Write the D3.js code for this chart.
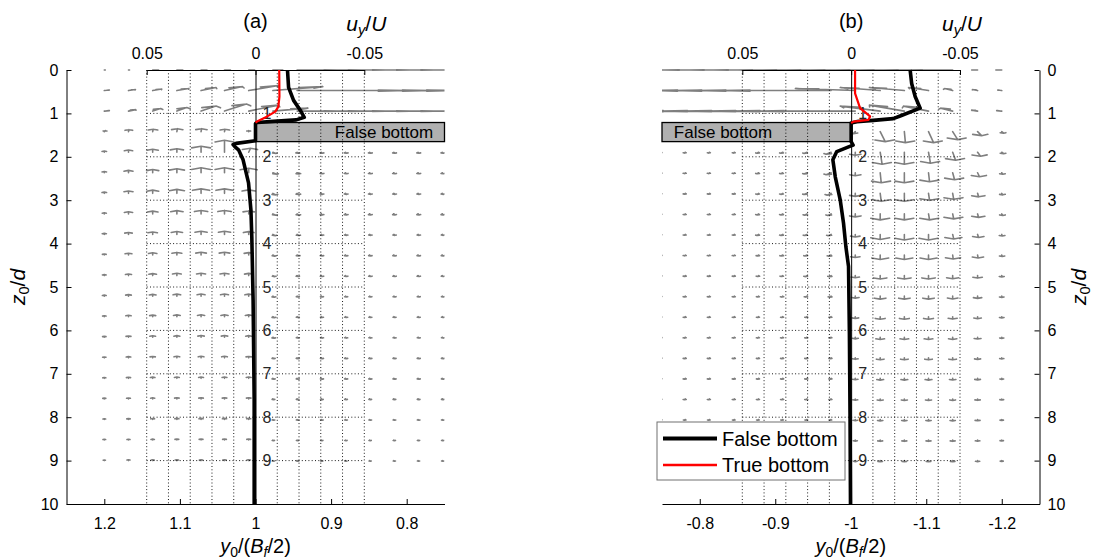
<!DOCTYPE html>
<html>
<head>
<meta charset="utf-8">
<script src="https://cdn.jsdelivr.net/npm/d3@7"></script>
<style>
  body { margin: 0; background: #fff; }
</style>
</head>
<body>
<svg id="fig" width="1093" height="559"></svg>
<script>
// ---------- axis ticks ----------
const zTicks = [0, 1, 2, 3, 4, 5, 6, 7, 8, 9, 10];
const zInnerTicks = [1, 2, 3, 4, 5, 6, 7, 8, 9];
const yTicksA = [1.2, 1.1, 1, 0.9, 0.8];
const yTicksB = [-0.8, -0.9, -1, -1.1, -1.2];
const uTicks = [0.05, 0, -0.05];
const uTickLabels = ["0.05", "0", "-0.05"];
const uGrid = [0.05, 0.04, 0.03, 0.02, 0.01, -0.01, -0.02, -0.03, -0.04, -0.05];

// ---------- quiver grid (y0/(Bf/2), z0/d) ----------
const zRows = [0, 0.474, 0.947, 1.421, 1.895, 2.368, 2.842, 3.316, 3.789, 4.263,
               4.737, 5.211, 5.684, 6.158, 6.632, 7.105, 7.579, 8.053, 8.526, 9.0];
const colsA = [1.200, 1.168, 1.136, 1.104, 1.072, 1.041, 1.009, 0.977, 0.945, 0.913,
               0.881, 0.849, 0.817, 0.785, 0.753];
const colsB = [-0.749, -0.781, -0.813, -0.846, -0.878, -0.910, -0.942, -0.974, -1.006,
               -1.039, -1.071, -1.103, -1.135, -1.168, -1.200];

// velocity components, panel (a): y-component and z-component
const qyA = [
 [-0.0006,-0.0006,-0.0034,-0.0034,-0.0034,-0.0034,-0.0034,-0.0057,-0.023,-0.023,-0.023,-0.023,-0.023,-0.023,-0.023],
 [-0.0029,-0.004,-0.0052,-0.0069,-0.0086,-0.0103,-0.0172,-0.0287,-0.0632,-0.0632,-0.0632,-0.0632,-0.0632,-0.0632,-0.0632],
 [-0.0029,-0.004,-0.0046,-0.0057,-0.0086,-0.0126,-0.0172,-0.0201,-0.023,-0.023,-0.023,-0.023,-0.023,-0.023,-0.023],
 [-0.0006,-0.0003,-0.0003,-0.0003,-0.0003,-0.0003,0,0,0,0,0,0,0,0,0],
 [0,0,0,0,0,0,-0.0011,-0.0017,-0.0006,-0.0006,-0.0006,-0.0006,-0.0006,-0.0006,-0.0006],
 [0,0,0,0,0,0,0,-0.0023,-0.0011,-0.0006,-0.0006,-0.0006,-0.0006,-0.0006,-0.0006],
 [0,0,0,0,0,0,0,-0.0017,-0.0011,-0.0006,-0.0006,-0.0006,-0.0006,-0.0006,-0.0006],
 [0,0,0,0,0,0,0,-0.0017,-0.0011,-0.0006,-0.0006,-0.0006,-0.0006,-0.0006,-0.0006],
 [0,0,0,0,0,0,0,-0.0014,-0.0011,-0.0006,-0.0006,-0.0006,-0.0006,-0.0006,-0.0006],
 [0,0,0,0,0,0,0,-0.0011,-0.0009,-0.0006,-0.0006,-0.0006,-0.0006,-0.0006,-0.0006],
 [0,0,0,0,0,0,0,-0.0011,-0.0006,-0.0006,-0.0006,-0.0006,-0.0006,-0.0006,-0.0006],
 [0,0,0,0,0,0,0,-0.0009,-0.0006,-0.0006,-0.0006,-0.0006,-0.0006,-0.0006,-0.0006],
 [0,0,0,0,0,0,0,-0.0009,-0.0006,-0.0006,-0.0006,-0.0006,-0.0006,-0.0006,-0.0006],
 [0,0,0,0,0,0,0,-0.0007,-0.0006,-0.0006,-0.0006,-0.0006,-0.0006,-0.0006,-0.0006],
 [0,0,0,0,0,0,0,-0.0006,-0.0006,-0.0006,-0.0006,-0.0006,-0.0006,-0.0006,-0.0006],
 [0,0,0,0,0,0,0,-0.0006,-0.0006,-0.0006,-0.0006,-0.0006,-0.0006,-0.0006,-0.0006],
 [0,0,0,0,0,0,0,-0.0005,-0.0005,-0.0005,-0.0005,-0.0005,-0.0005,-0.0005,-0.0005],
 [0,0,0,0,0,0,0,-0.0005,-0.0005,-0.0005,-0.0005,-0.0005,-0.0005,-0.0005,-0.0005],
 [0,0,0,0,0,0,0,-0.0004,-0.0004,-0.0004,-0.0004,-0.0004,-0.0004,-0.0004,-0.0004],
 [0,0,0,0,0,0,0,-0.0004,-0.0004,-0.0004,-0.0004,-0.0004,-0.0004,-0.0004,-0.0004]
];
const qzA = [
 [0,0,0,0,0,0,0,0,0,0,0,0,0,0,0],
 [-0.005,-0.010,-0.015,-0.020,-0.030,-0.040,-0.050,-0.040,0,0,0,0,0,0,0],
 [-0.005,-0.015,-0.025,-0.035,-0.050,-0.070,-0.060,-0.030,0,0,0,0,0,0,0],
 [-0.010,-0.020,-0.025,-0.030,-0.030,-0.025,-0.010,0,0,0,0,0,0,0,0],
 [-0.012,-0.022,-0.030,-0.035,-0.060,-0.120,-0.040,0.012,0.010,0.010,0.010,0.010,0.010,0.010,0.010],
 [-0.012,-0.024,-0.032,-0.040,-0.050,-0.050,-0.045,0.015,0.012,0.010,0.010,0.010,0.010,0.010,0.010],
 [-0.012,-0.024,-0.032,-0.040,-0.045,-0.045,-0.035,0.015,0.012,0.010,0.010,0.010,0.010,0.010,0.010],
 [-0.011,-0.022,-0.028,-0.033,-0.035,-0.035,-0.030,0.013,0.012,0.010,0.010,0.010,0.010,0.010,0.010],
 [-0.011,-0.020,-0.025,-0.030,-0.032,-0.032,-0.028,0.012,0.011,0.009,0.009,0.009,0.009,0.009,0.009],
 [-0.010,-0.018,-0.022,-0.026,-0.028,-0.028,-0.024,0.011,0.010,0.009,0.009,0.009,0.009,0.009,0.009],
 [-0.010,-0.016,-0.020,-0.023,-0.024,-0.024,-0.022,0.010,0.009,0.009,0.009,0.009,0.009,0.009,0.009],
 [-0.010,-0.015,-0.018,-0.020,-0.021,-0.021,-0.020,0.010,0.008,0.008,0.008,0.008,0.008,0.008,0.008],
 [-0.009,-0.014,-0.016,-0.018,-0.019,-0.019,-0.018,0.010,0.008,0.008,0.008,0.008,0.008,0.008,0.008],
 [-0.009,-0.013,-0.015,-0.016,-0.017,-0.017,-0.016,0.009,0.008,0.008,0.008,0.008,0.008,0.008,0.008],
 [-0.009,-0.012,-0.014,-0.015,-0.015,-0.015,-0.014,0.008,0.008,0.008,0.008,0.008,0.008,0.008,0.008],
 [-0.008,-0.011,-0.012,-0.013,-0.013,-0.013,-0.013,0.008,0.008,0.008,0.008,0.008,0.008,0.008,0.008],
 [-0.008,-0.010,-0.011,-0.012,-0.012,-0.012,-0.012,0.007,0.007,0.007,0.007,0.007,0.007,0.007,0.007],
 [-0.007,-0.009,-0.010,-0.011,-0.011,-0.011,-0.011,0.007,0.007,0.007,0.007,0.007,0.007,0.007,0.007],
 [-0.007,-0.008,-0.009,-0.010,-0.010,-0.010,-0.010,0.006,0.006,0.006,0.006,0.006,0.006,0.006,0.006],
 [-0.006,-0.008,-0.008,-0.009,-0.009,-0.009,-0.009,0.006,0.006,0.006,0.006,0.006,0.006,0.006,0.006]
];

// velocity components, panel (b)
const qyB = [
 [0.0259,0.0259,0.0259,0.0259,0.0259,0.0259,0.0259,0.0259,0.0259,0.0259,0.0259,0.0259,0.0259,0.0034,0.0034],
 [0.0632,0.0632,0.0632,0.0632,0.0632,0.0632,0.0632,0.0632,0.0345,0.023,0.0201,0.0115,0.0046,0.0029,0.0023],
 [0.0575,0.0575,0.0575,0.0575,0.0575,0.0575,0.0575,0.0575,0.0575,0.023,0.0201,0.0144,0.0069,0.0034,0.0029],
 [0,0,0,0,0,0,0,0,0.0011,-0.0029,-0.0006,-0.0029,-0.0029,-0.0023,-0.0011],
 [0.0003,0.0006,0.0006,0.0006,0.0009,0.0011,0.0017,0.0029,0,-0.0011,0,-0.0011,-0.0017,-0.0017,-0.0011],
 [0.0003,0.0006,0.0006,0.0006,0.0009,0.0011,0.0017,0.0029,0,-0.0006,0,-0.0006,-0.0011,-0.0011,-0.0006],
 [0.0003,0.0006,0.0006,0.0006,0.0009,0.0011,0.0017,0.0023,0,-0.0006,0,-0.0006,-0.0006,-0.0006,-0.0006],
 [0.0003,0.0006,0.0006,0.0006,0.0009,0.0011,0.0014,0.0020,0,0,0,-0.0006,-0.0006,-0.0006,-0.0006],
 [0.0003,0.0006,0.0006,0.0006,0.0009,0.0011,0.0014,0.0017,0,0,0,0,-0.0006,-0.0006,-0.0003],
 [0.0003,0.0006,0.0006,0.0006,0.0007,0.0009,0.0011,0.0014,0,0,0,0,-0.0003,-0.0003,-0.0003],
 [0.0003,0.0006,0.0006,0.0006,0.0006,0.0009,0.0011,0.0011,0,0,0,0,0,0,0],
 [0.0003,0.0006,0.0006,0.0006,0.0006,0.0006,0.0009,0.0009,0,0,0,0,0,0,0],
 [0.0003,0.0006,0.0006,0.0006,0.0006,0.0006,0.0006,0.0006,0,0,0,0,0,0,0],
 [0.0003,0.0006,0.0006,0.0006,0.0006,0.0006,0.0006,0.0006,0,0,0,0,0,0,0],
 [0.0003,0.0006,0.0006,0.0006,0.0006,0.0006,0.0006,0.0006,0,0,0,0,0,0,0],
 [0.0003,0.0006,0.0006,0.0006,0.0006,0.0006,0.0006,0.0006,0,0,0,0,0,0,0],
 [0.0003,0.0006,0.0006,0.0006,0.0006,0.0006,0.0006,0.0006,0,0,0,0,0,0,0],
 [0.0003,0.0006,0.0006,0.0006,0.0006,0.0006,0.0006,0.0006,0,0,0,0,0,0,0],
 [0.0003,0.0006,0.0006,0.0006,0.0006,0.0006,0.0006,0.0006,0,0,0,0,0,0,0],
 [0.0003,0.0006,0.0006,0.0006,0.0006,0.0006,0.0006,0.0006,0,0,0,0,0,0,0]
];
const qzB = [
 [0,0,0,0,0,0,0,0,0,0,0,0,0,0,0],
 [0,0,0,0,0,0,0,0,-0.020,-0.030,-0.030,-0.030,-0.020,-0.010,-0.005],
 [0,0,0,0,0,0,0,0,0,-0.050,-0.060,-0.050,-0.030,-0.010,-0.005],
 [0,0,0,0,0,0,0,0,0.020,0.100,0.110,0.110,0.080,0.040,0.015],
 [0.005,0.008,0.008,0.008,0.010,0.010,0.012,0.020,0.030,0.120,0.120,0.110,0.080,0.040,0.015],
 [0.005,0.008,0.008,0.008,0.010,0.010,0.012,0.020,0.030,0.100,0.100,0.090,0.070,0.040,0.015],
 [0.005,0.008,0.008,0.008,0.010,0.010,0.012,0.018,0.030,0.080,0.080,0.070,0.060,0.035,0.015],
 [0.005,0.008,0.008,0.008,0.010,0.010,0.012,0.015,0.030,0.060,0.060,0.060,0.050,0.035,0.015],
 [0.005,0.008,0.008,0.008,0.010,0.010,0.011,0.013,0.025,0.050,0.055,0.055,0.045,0.030,0.015],
 [0.005,0.008,0.008,0.008,0.009,0.010,0.010,0.012,0.025,0.045,0.045,0.045,0.040,0.030,0.014],
 [0.005,0.008,0.008,0.008,0.009,0.009,0.010,0.011,0.022,0.035,0.035,0.035,0.032,0.025,0.013],
 [0.005,0.008,0.008,0.008,0.008,0.009,0.009,0.010,0.020,0.030,0.030,0.030,0.028,0.022,0.012],
 [0.005,0.008,0.008,0.008,0.008,0.008,0.008,0.008,0.018,0.026,0.026,0.026,0.024,0.020,0.012],
 [0.005,0.008,0.008,0.008,0.008,0.008,0.008,0.008,0.016,0.023,0.023,0.023,0.022,0.018,0.011],
 [0.005,0.008,0.008,0.008,0.008,0.008,0.008,0.008,0.015,0.020,0.020,0.020,0.020,0.016,0.011],
 [0.005,0.008,0.008,0.008,0.008,0.008,0.008,0.008,0.014,0.018,0.018,0.018,0.017,0.015,0.010],
 [0.005,0.008,0.008,0.008,0.008,0.008,0.008,0.008,0.013,0.016,0.016,0.016,0.015,0.014,0.010],
 [0.005,0.007,0.007,0.007,0.007,0.007,0.007,0.007,0.012,0.014,0.014,0.014,0.014,0.013,0.009],
 [0.005,0.007,0.007,0.007,0.007,0.007,0.007,0.007,0.011,0.013,0.013,0.013,0.013,0.012,0.009],
 [0.004,0.006,0.006,0.006,0.006,0.006,0.006,0.006,0.010,0.012,0.012,0.012,0.012,0.011,0.008]
];

// ---------- mean u_y/U profiles ----------
const falseA_z = [0, 0.4, 0.7, 0.92, 1.09, 1.15, 1.19, 1.21, 1.233, 1.63, 1.69, 1.72, 1.77, 1.84, 2.07, 2.6, 3.23, 3.84, 5.3, 7.6, 10];
const falseA_u = [-0.0147, -0.0152, -0.0175, -0.0205, -0.0224, -0.0187, -0.0067, -0.0008, 0, 0, 0.0089, 0.0103, 0.0094, 0.0078, 0.0057, 0.0032, 0.0021, 0.0017, 0.0011, 0.0006, 0.0006];
const trueA_z = [0, 0.615, 0.845, 0.96, 1.075, 1.167, 1.21];
const trueA_u = [-0.0109, -0.0110, -0.0105, -0.0091, -0.0052, -0.0014, 0];
const falseB_z = [0, 0.31, 0.61, 0.88, 1.06, 1.12, 1.16, 1.19, 1.22, 1.65, 1.73, 1.77, 1.88, 2.07, 2.46, 3.0, 3.53, 4.08, 4.53, 6.07, 8.06, 10];
const falseB_u = [-0.0271, -0.0278, -0.0294, -0.0317, -0.0225, -0.0193, -0.0102, -0.0026, 0, 0, -0.0009, 0.0012, 0.0066, 0.0084, 0.0073, 0.005, 0.0035, 0.0024, 0.0012, 0.0008, 0.0005, 0.0003];
const trueB_z = [0, 0.54, 0.88, 1.07, 1.15, 1.19, 1.22];
const trueB_u = [-0.0018, -0.0018, -0.0041, -0.0087, -0.0079, -0.0011, 0];

// false-bottom block (z0/d extent)
const fbTop = 1.21, fbBottom = 1.65;
const legendLabels = ["False bottom", "True bottom"];

// ---------- drawing ----------
const svg = d3.select("#fig");
const FONT = "'Liberation Sans', Arial, sans-serif";
const zScale = d3.scaleLinear().domain([0, 10]).range([70, 504]);
const xA = d3.scaleLinear().domain([1.25, 0.75]).range([66.5, 444.5]);
const uA = d3.scaleLinear().domain([0.05, -0.05]).range([146.7, 364.3]);
const xB = d3.scaleLinear().domain([-0.75, -1.25]).range([662, 1039.5]);
const uB = d3.scaleLinear().domain([0.05, -0.05]).range([742.3, 960]);

const QSCALE = 2.3, HEAD = 0.33, HEAD_W = 0.33, HEAD_MAX = 0.038;

const defs = svg.append("defs");
function clipFor(id, x) {
  const r = x.range();
  defs.append("clipPath").attr("id", id).append("rect")
    .attr("x", Math.min(r[0], r[1])).attr("y", zScale(0) - 2)
    .attr("width", Math.abs(r[1] - r[0])).attr("height", zScale(10) - zScale(0) + 2);
}
clipFor("clipA", xA);
clipFor("clipB", xB);

// MATLAB-style arrows: shaft plus two head strokes, computed in data units
function quiver(g, x, cols, qy, qz, clipId) {
  let d = "";
  zRows.forEach((z, k) => cols.forEach((y0, i) => {
    const du = QSCALE * qy[k][i], dv = QSCALE * qz[k][i];
    const len = Math.hypot(du, dv);
    if (len < 1e-9) return;
    const a = Math.min(HEAD, HEAD_MAX / len);
    const tu = y0 + du, tv = z + dv;
    const h1u = tu - a * (du + HEAD_W * dv), h1v = tv - a * (dv - HEAD_W * du);
    const h2u = tu - a * (du - HEAD_W * dv), h2v = tv - a * (dv + HEAD_W * du);
    d += `M${x(y0)},${zScale(z)}L${x(tu)},${zScale(tv)}` +
         `M${x(h1u)},${zScale(h1v)}L${x(tu)},${zScale(tv)}L${x(h2u)},${zScale(h2v)}`;
  }));
  g.append("path").attr("d", d).attr("clip-path", `url(#${clipId})`)
    .attr("fill", "none").attr("stroke", "#7f7f7f").attr("stroke-width", 1.6)
    .attr("stroke-linejoin", "round").attr("stroke-linecap", "round");
}

function styleAxis(sel, fs, color) {
  sel.attr("font-family", FONT).attr("font-size", fs);
  sel.select(".domain").attr("stroke", "#000").attr("stroke-width", 1);
  sel.selectAll(".tick line").attr("stroke", "#000").attr("stroke-width", 1);
  sel.selectAll(".tick text").attr("fill", color || "#000");
}

function grid(g, u) {
  g.selectAll(null).data(uGrid).join("line")
    .attr("x1", d => u(d)).attr("x2", d => u(d))
    .attr("y1", zScale(0)).attr("y2", zScale(10));
  g.selectAll(null).data(zInnerTicks).join("line")
    .attr("x1", u(0.05)).attr("x2", u(-0.05))
    .attr("y1", d => zScale(d)).attr("y2", d => zScale(d));
  g.attr("stroke", "#000").attr("stroke-width", 0.9).attr("stroke-dasharray", "1,2.3");
}

function profile(g, u, zs, us, color, width) {
  const line = d3.line().x(d => u(d[1])).y(d => zScale(d[0]));
  g.append("path").attr("d", line(d3.zip(zs, us)))
    .attr("fill", "none").attr("stroke", color).attr("stroke-width", width)
    .attr("stroke-linejoin", "round");
}

function plainText(parent, x, y, str, size, anchor) {
  return parent.append("text").attr("x", x).attr("y", y).attr("text-anchor", anchor || "middle")
    .attr("font-size", size).attr("font-family", FONT)
    .attr("fill", "#000").text(str);
}

// text with italic letters and subscripts
function mathText(parent, x, y, parts, size, rotate) {
  const g = parent.append("g").attr("transform", `translate(${x},${y})` + (rotate ? ` rotate(${rotate})` : ""));
  const t = g.append("text").attr("text-anchor", "middle").attr("font-size", size)
    .attr("font-family", FONT).attr("fill", "#000");
  let shifted = false;
  parts.forEach(p => {
    const s = t.append("tspan").text(p.t);
    if (p.it) s.attr("font-style", "italic");
    if (p.sub) { s.attr("font-size", size * 0.7).attr("dy", size * 0.2); shifted = true; }
    else if (shifted) { s.attr("dy", -size * 0.2); shifted = false; }
  });
}

const uLabel = [{t: "u", it: true}, {t: "y", it: true, sub: true}, {t: "/"}, {t: "U", it: true}];
const yLabel = [{t: "y", it: true}, {t: "0", sub: true}, {t: "/("}, {t: "B", it: true}, {t: "f", it: true, sub: true}, {t: "/2)"}];
const zLabel = [{t: "z", it: true}, {t: "0", sub: true}, {t: "/"}, {t: "d", it: true}];

function panel(opt) {
  const g = svg.append("g");
  quiver(g, opt.x, opt.cols, opt.qy, opt.qz, opt.clip);

  // false bottom block
  const bx0 = opt.x(opt.fbFrom), bx1 = opt.x(opt.fbTo);
  g.append("rect").attr("x", Math.min(bx0, bx1)).attr("y", zScale(fbTop))
    .attr("width", Math.abs(bx1 - bx0)).attr("height", zScale(fbBottom) - zScale(fbTop))
    .attr("fill", "#b0b0b0").attr("stroke", "#000").attr("stroke-width", 1.3);
  plainText(g, opt.fbLabelX, zScale(fbTop) + 15.5, legendLabels[0], 17);

  grid(g.append("g"), opt.u);

  // u_y/U axis on top and the zero line with z labels
  const top = g.append("g").attr("transform", `translate(0,${zScale(0)})`)
    .call(d3.axisTop(opt.u).tickValues(uTicks).tickSizeInner(-5).tickSizeOuter(0)
      .tickPadding(11).tickFormat((d, i) => uTickLabels[i]));
  styleAxis(top, 16);
  const mid = g.append("g").attr("transform", `translate(${opt.u(0)},0)`)
    .call(d3.axisRight(zScale).tickValues(zInnerTicks).tickSizeInner(0).tickSizeOuter(0)
      .tickPadding(7).tickFormat(d3.format("d")));
  styleAxis(mid, 16, "#262626");

  profile(g, opt.u, opt.fz, opt.fu, "#000", 3.6);
  profile(g, opt.u, opt.tz, opt.tu, "#ff0000", 2.2);

  // main axes
  const zAxis = (opt.right ? d3.axisRight(zScale) : d3.axisLeft(zScale))
    .tickValues(zTicks).tickSizeInner(-5).tickSizeOuter(0).tickPadding(8).tickFormat(d3.format("d"));
  const za = g.append("g").attr("transform", `translate(${opt.zAxisX},0)`).call(zAxis);
  styleAxis(za, 16);
  const xa = g.append("g").attr("transform", `translate(0,${zScale(10)})`)
    .call(d3.axisBottom(opt.x).tickValues(opt.xTicks).tickSizeInner(-5).tickSizeOuter(0)
      .tickPadding(14).tickFormat(d => String(d)));
  styleAxis(xa, 16);

  // titles and axis labels
  plainText(g, opt.u(0), 28, opt.title, 20);
  mathText(g, opt.u(-0.05) + 2, 31, uLabel, 21);
  mathText(g, opt.x(opt.xCenter), 553, yLabel, 20);
  mathText(g, opt.zLabelX, zScale(5), zLabel, 21, -90);
}

panel({
  x: xA, u: uA, cols: colsA, qy: qyA, qz: qzA, clip: "clipA",
  fbFrom: 1, fbTo: 0.75, fbLabelX: 384,
  fz: falseA_z, fu: falseA_u, tz: trueA_z, tu: trueA_u,
  right: false, zAxisX: xA(1.25), xTicks: yTicksA, xCenter: 1,
  title: "(a)", zLabelX: 25
});
panel({
  x: xB, u: uB, cols: colsB, qy: qyB, qz: qzB, clip: "clipB",
  fbFrom: -0.75, fbTo: -1, fbLabelX: 723,
  fz: falseB_z, fu: falseB_u, tz: trueB_z, tu: trueB_u,
  right: true, zAxisX: xB(-1.25), xTicks: yTicksB, xCenter: -1,
  title: "(b)", zLabelX: 1086
});

// legend
const lg = svg.append("g");
lg.append("rect").attr("x", 657).attr("y", 422).attr("width", 188).attr("height", 58)
  .attr("fill", "#fff").attr("stroke", "#707070").attr("stroke-width", 1);
const legendStyles = [{color: "#000", width: 4}, {color: "#ff0000", width: 2.4}];
legendLabels.forEach((lab, i) => {
  const y = 438.5 + i * 26.5;
  lg.append("line").attr("x1", 663).attr("x2", 717).attr("y1", y).attr("y2", y)
    .attr("stroke", legendStyles[i].color).attr("stroke-width", legendStyles[i].width);
  plainText(lg, 722, y + 7, lab, 20, "start");
});
</script>
</body>
</html>
